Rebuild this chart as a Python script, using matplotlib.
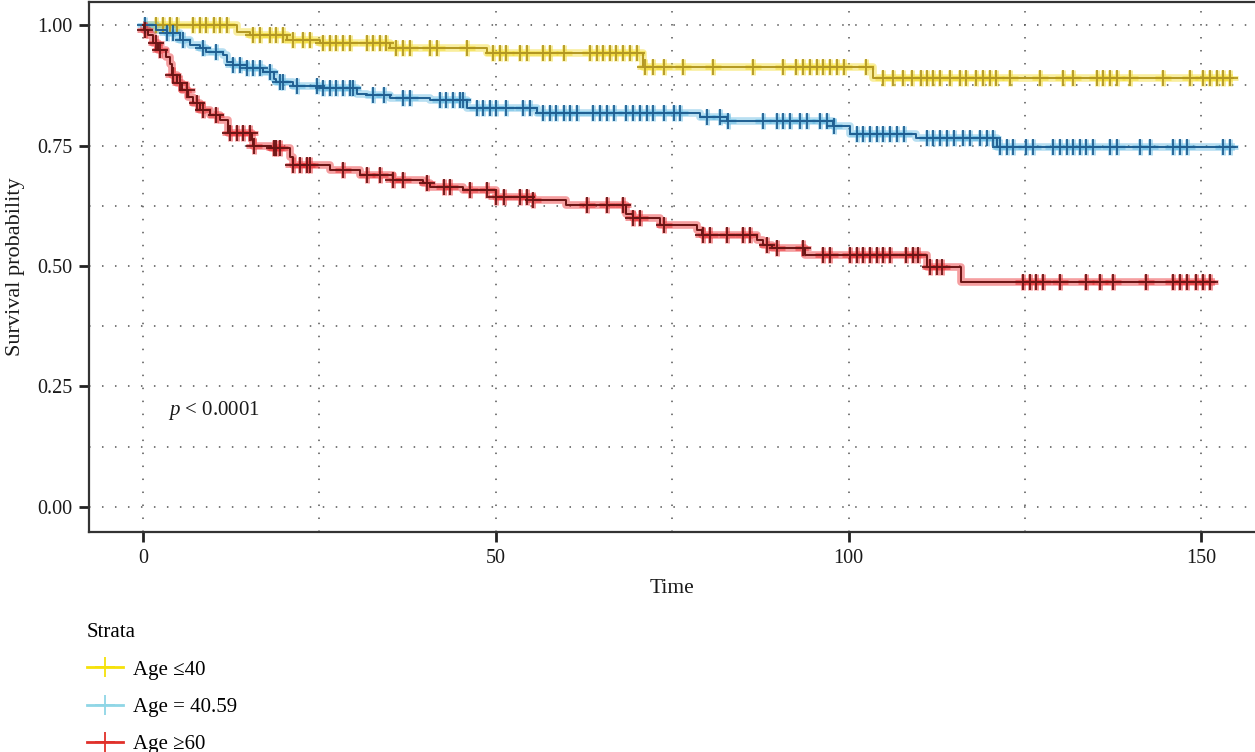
import numpy as np
import matplotlib
matplotlib.use("Agg")
import matplotlib.pyplot as plt
from matplotlib.lines import Line2D

plt.rcParams['font.family'] = ['Liberation Serif', 'DejaVu Serif']
plt.rcParams['mathtext.fontset'] = 'custom'
plt.rcParams['mathtext.rm'] = 'Liberation Serif'
plt.rcParams['mathtext.it'] = 'Liberation Serif:italic'

fontsize = 15

labels = ["Age \u226440", "Age = 40.59", "Age \u226560"]

# Kaplan-Meier steps: time of each drop and survival after it
yel_t = [0, 13.3, 15.2, 20.4, 25.1, 35.0, 48.7, 70.9, 103.4]
yel_s = [1.0, 0.986, 0.979, 0.970, 0.962, 0.952, 0.942, 0.913, 0.891]
yel_end = 154.5
yel_cens = [1.9, 2.9, 3.8, 4.8, 7.1, 8.1, 9.0, 10.0, 10.9, 11.9, 15.6, 16.6,
            18.0, 18.9, 19.9, 21.3, 22.7, 23.7, 25.5, 26.5, 27.4, 28.4, 29.3,
            31.7, 32.6, 33.6, 34.5, 35.9, 36.9, 37.8, 40.7, 41.6, 45.9, 49.6,
            50.6, 51.5, 53.4, 54.4, 56.7, 57.7, 59.6, 63.3, 64.3, 65.2, 66.2,
            67.1, 68.1, 69.0, 70.0, 71.2, 72.3, 73.8, 76.6, 80.8, 86.5, 90.7,
            92.6, 93.6, 94.5, 95.5, 96.4, 97.4, 98.3, 99.3, 102.5, 104.9,
            106.3, 107.7, 109.0, 110.3, 111.1, 112.0, 113.0, 114.4, 115.8,
            116.7, 118.1, 119.1, 120.0, 120.9, 122.9, 127.1, 130.4, 131.8,
            135.2, 136.1, 137.0, 138.0, 139.9, 144.6, 148.4, 150.3, 151.2,
            152.2, 153.1, 154.0]

blue_t = [0, 1.9, 3.35, 5.2, 6.7, 8.1, 9.0, 11.4, 11.9, 12.8, 14.7, 17.0,
          18.5, 18.9, 21.3, 25.1, 30.3, 31.7, 35.0, 40.7, 45.9, 55.8, 78.9,
          82.7, 97.8, 100.2, 109.6, 121.0]
blue_s = [1.0, 0.990, 0.983, 0.969, 0.958, 0.952, 0.945, 0.938, 0.924, 0.917,
          0.910, 0.903, 0.889, 0.882, 0.873, 0.869, 0.858, 0.855, 0.848,
          0.844, 0.827, 0.817, 0.810, 0.801, 0.790, 0.775, 0.765, 0.747]
blue_end = 154.7
blue_cens = [0.3, 3.4, 4.3, 5.7, 8.5, 10.4, 12.8, 13.7, 14.7, 15.6, 16.6,
             18.0, 19.4, 19.9, 21.8, 24.6, 25.5, 26.5, 27.4, 28.4, 29.3, 29.8,
             32.6, 34.1, 36.9, 37.8, 42.1, 43.0, 43.9, 44.9, 45.4, 47.3, 48.2,
             49.2, 50.1, 51.5, 53.9, 54.8, 56.7, 57.7, 58.6, 59.6, 60.5, 61.5,
             63.8, 64.8, 65.7, 66.7, 68.5, 69.5, 70.4, 71.4, 72.3, 73.8, 75.2,
             76.1, 79.9, 81.8, 82.9, 87.9, 89.8, 90.7, 91.7, 93.1, 94.1, 96.0,
             96.9, 97.9, 101.2, 102.1, 103.0, 104.0, 104.9, 105.9, 106.8,
             107.8, 111.1, 112.0, 113.0, 113.9, 114.9, 116.2, 117.2, 118.6,
             119.6, 120.5, 121.4, 122.4, 123.3, 125.2, 126.2, 129.0, 129.9,
             130.9, 131.8, 132.8, 133.7, 134.7, 137.0, 138.0, 141.3, 142.7,
             146.0, 146.9, 147.9, 153.1, 154.0]

red_t = [0, 0.2, 0.75, 1.46, 2.17, 3.2, 3.83, 4.06, 4.77, 5.5, 6.4, 7.1, 8.08,
         9.5, 10.9, 12.1, 15.4, 15.6, 18.2, 20.8, 21.3, 26.5, 30.7, 35.5,
         39.7, 40.7, 45.4, 50.1, 55.3, 60.0, 68.5, 69.5, 73.3, 78.5, 79.2,
         87.0, 87.9, 89.1, 93.8, 111.1, 116.0]
red_s = [1.0, 0.989, 0.979, 0.962, 0.948, 0.934, 0.920, 0.896, 0.879, 0.865,
         0.851, 0.838, 0.824, 0.813, 0.803, 0.776, 0.761, 0.750, 0.744, 0.727,
         0.710, 0.699, 0.689, 0.678, 0.672, 0.665, 0.658, 0.644, 0.637,
         0.627, 0.609, 0.599, 0.585, 0.575, 0.564, 0.554, 0.544, 0.537,
         0.523, 0.499, 0.467]
red_end = 151.9
red_cens = [0.3, 1.9, 2.4, 4.3, 5.2, 6.2, 7.6, 8.5, 10.4, 12.3, 13.3, 14.2,
            15.2, 15.7, 18.5, 18.9, 19.4, 21.3, 22.3, 23.2, 23.7, 28.4, 31.7,
            33.6, 35.5, 36.9, 40.2, 42.6, 43.5, 46.3, 48.7, 50.1, 51.1, 53.4,
            54.4, 55.3, 62.9, 65.7, 68.1, 69.5, 70.4, 73.8, 79.4, 80.4, 82.7,
            85.1, 86.0, 88.4, 89.8, 93.6, 96.4, 97.4, 100.2, 101.2, 102.1,
            103.0, 104.0, 104.9, 105.9, 108.2, 109.2, 109.9, 111.5, 112.5,
            113.2, 124.7, 125.7, 126.6, 127.6, 129.9, 133.7, 135.6, 137.5,
            142.2, 146.0, 146.9, 147.9, 149.3, 150.3, 151.2]

# (glow colour, line colour, legend colour)
styles = [("#f2da2a", "#b39722", "#f5e10a"),
          ("#62b9e2", "#1f5f92", "#8fd6e6"),
          ("#ea2a2e", "#6a1414", "#e0302a")]


def km_step(times, surv, end):
    t = np.append(times, end)
    s = np.append(surv, surv[-1])
    return t, s


def surv_at(times, surv, x):
    idx = np.searchsorted(times, x, side='right') - 1
    return np.asarray(surv)[idx]


fig = plt.figure(figsize=(12.55, 7.52), dpi=100)
ax = fig.add_axes([89 / 1255, 220 / 752, 1166 / 1255, 530 / 752])

curves = [(yel_t, yel_s, yel_end, yel_cens),
          (blue_t, blue_s, blue_end, blue_cens),
          (red_t, red_s, red_end, red_cens)]

for (times, surv, end, cens), (glow, line, _) in zip(curves, styles):
    t, s = km_step(times, surv, end)
    cy = surv_at(times, surv, cens)
    # soft coloured band under a thin dark line
    ax.plot(t, s, drawstyle='steps-post', color=glow, lw=5.5, alpha=0.45,
            solid_capstyle='butt', zorder=3)
    ax.plot(cens, cy, ls='none', marker='+', ms=12, mew=3.5, color=glow,
            alpha=0.5, zorder=3)
    ax.plot(t, s, drawstyle='steps-post', color=line, lw=1.4, zorder=4)
    ax.plot(cens, cy, ls='none', marker='+', ms=11, mew=1.3, color=line,
            zorder=4)

ax.set_xlim(-7.65, 157.6)
ax.set_ylim(-0.052, 1.048)
ax.set_xticks([0, 50, 100, 150])
ax.set_xticks([25, 75, 125], minor=True)
ax.set_yticks([0, 0.25, 0.5, 0.75, 1.0])
ax.set_yticks([0.125, 0.375, 0.625, 0.875], minor=True)
ax.set_yticklabels(["0.00", "0.25", "0.50", "0.75", "1.00"])
ax.grid(True, which='both', color='#555555', linestyle=(0, (1, 7.5)),
        linewidth=1.1, zorder=0)
ax.tick_params(which='major', direction='out', length=7, width=2,
               color='#222222', labelsize=14.5, labelcolor='#1a1a1a', pad=5)
ax.tick_params(which='minor', length=0)
ax.spines['right'].set_visible(False)
for side in ('left', 'bottom', 'top'):
    ax.spines[side].set_color('#333333')
    ax.spines[side].set_linewidth(1.6)

ax.set_xlabel("Time", fontsize=fontsize + 0.5, color='#1a1a1a', labelpad=8)
ax.set_ylabel("Survival probability", fontsize=16, color='#1a1a1a',
              labelpad=9)

ax.text(3.5, 0.20, "$p$ < 0.0001", fontsize=fontsize, color='#1a1a1a',
        ha='left', va='center')

handles = [Line2D([], [], color=leg, lw=2, marker='+', ms=15, mew=1.3)
           for _, _, leg in styles]
fig.legend(handles, labels, title="Strata", loc='upper left',
           bbox_to_anchor=(87 / 1255, 1 - 623 / 752), frameon=False,
           fontsize=fontsize, title_fontsize=fontsize, alignment='left',
           borderpad=0, borderaxespad=0, handlelength=1.75, handletextpad=0.45,
           labelspacing=0.86)

fig.savefig("out.png", dpi=100)
